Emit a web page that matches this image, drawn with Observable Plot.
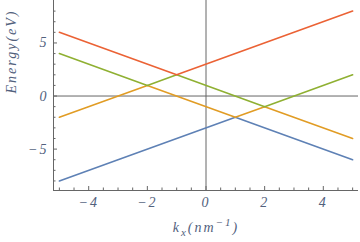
<!DOCTYPE html>
<html><head><meta charset="utf-8">
<script src="https://cdn.jsdelivr.net/npm/d3@7"></script>
<script src="https://cdn.jsdelivr.net/npm/@observablehq/plot@0.6"></script>
<style>body{margin:0;background:#fff;} #chart svg{display:block;}
#chart svg text{letter-spacing:2px;}</style>
</head><body><div id="chart"></div>
<script>
// Sorted energy bands (piecewise linear, vertices)
const band1K = [-5, 1, 5];            const band1E = [-8, -2, -6];
const band2K = [-5, -2, 1, 2, 5];     const band2E = [-2, 1, -2, -1, -4];
const band3K = [-5, -2, -1, 2, 5];    const band3E = [4, 1, 2, -1, 2];
const band4K = [-5, -1, 5];           const band4E = [6, 2, 8];
const bandColors = ["#5E81B5", "#E19C24", "#8FB032", "#EB6235"];

const xMajor = [-4, -2, 0, 2, 4];
const xMinor = [-5, -4.5, -3.5, -3, -2.5, -1.5, -1, -0.5, 0.5, 1, 1.5, 2.5, 3, 3.5, 4.5, 5];
const yMajor = [-5, 0, 5];
const yMinor = [-8, -7, -6, -4, -3, -2, -1, 1, 2, 3, 4, 6, 7, 8];
const xDomain = [-5.2, 5.2];
const yDomain = [-8.9, 9.0];

const bands = [[band1K, band1E], [band2K, band2E], [band3K, band3E], [band4K, band4E]]
  .map(([K, E], b) => K.map((k, i) => ({k, e: E[i], band: b})));

const labelColor = "#52617d";
const axisColor = "#666";
const font = "Liberation Serif";
const txt = {fontFamily: font, fontStyle: "italic", fontSize: 14, fill: labelColor};

const chart = Plot.plot({
  width: 360, height: 242,
  marginLeft: 53, marginRight: 2, marginTop: 0, marginBottom: 52,
  x: {domain: xDomain},
  y: {domain: yDomain},
  marks: [
    Plot.ruleX([0], {stroke: axisColor, strokeWidth: 1}),
    Plot.ruleY([0], {stroke: axisColor, strokeWidth: 1}),
    ...bands.map((pts, b) => Plot.line(pts, {x: "k", y: "e", stroke: bandColors[b], strokeWidth: 1.6})),
    Plot.ruleX([xDomain[0]], {stroke: axisColor}),
    Plot.ruleY([yDomain[0]], {stroke: axisColor}),
    Plot.axisX(xMajor, {tickSize: -4, text: null, stroke: axisColor, label: null}),
    Plot.axisX(xMinor, {tickSize: -2.5, text: null, stroke: axisColor, label: null}),
    Plot.axisY(yMajor, {tickSize: -4, text: null, stroke: axisColor, label: null}),
    Plot.axisY(yMinor, {tickSize: -2.5, text: null, stroke: axisColor, label: null}),
    Plot.axisX(xMajor, {tickSize: 0, tickPadding: 7, label: null, ...txt}),
    Plot.axisY(yMajor, {tickSize: 0, tickPadding: 5, label: null, ...txt}),
    Plot.text(["Energy(eV)"], {frameAnchor: "left", rotate: -90, dx: -38, dy: -2, lineAnchor: "bottom", ...txt})
  ]
});
document.getElementById("chart").appendChild(chart);

// x-axis title with subscript/superscript
const svg = d3.select(chart);
const t = svg.append("text")
  .attr("x", 206).attr("y", 232)
  .attr("text-anchor", "middle")
  .attr("fill", labelColor)
  .attr("font-family", font).attr("font-style", "italic").attr("font-size", 14);
t.append("tspan").text("k");
t.append("tspan").attr("dy", 4).attr("font-size", 11).text("x");
t.append("tspan").attr("dy", -4).text("(nm");
t.append("tspan").attr("dy", -6).attr("font-size", 11).text("−1");
t.append("tspan").attr("dy", 6).text(")");
</script>
</body></html>
